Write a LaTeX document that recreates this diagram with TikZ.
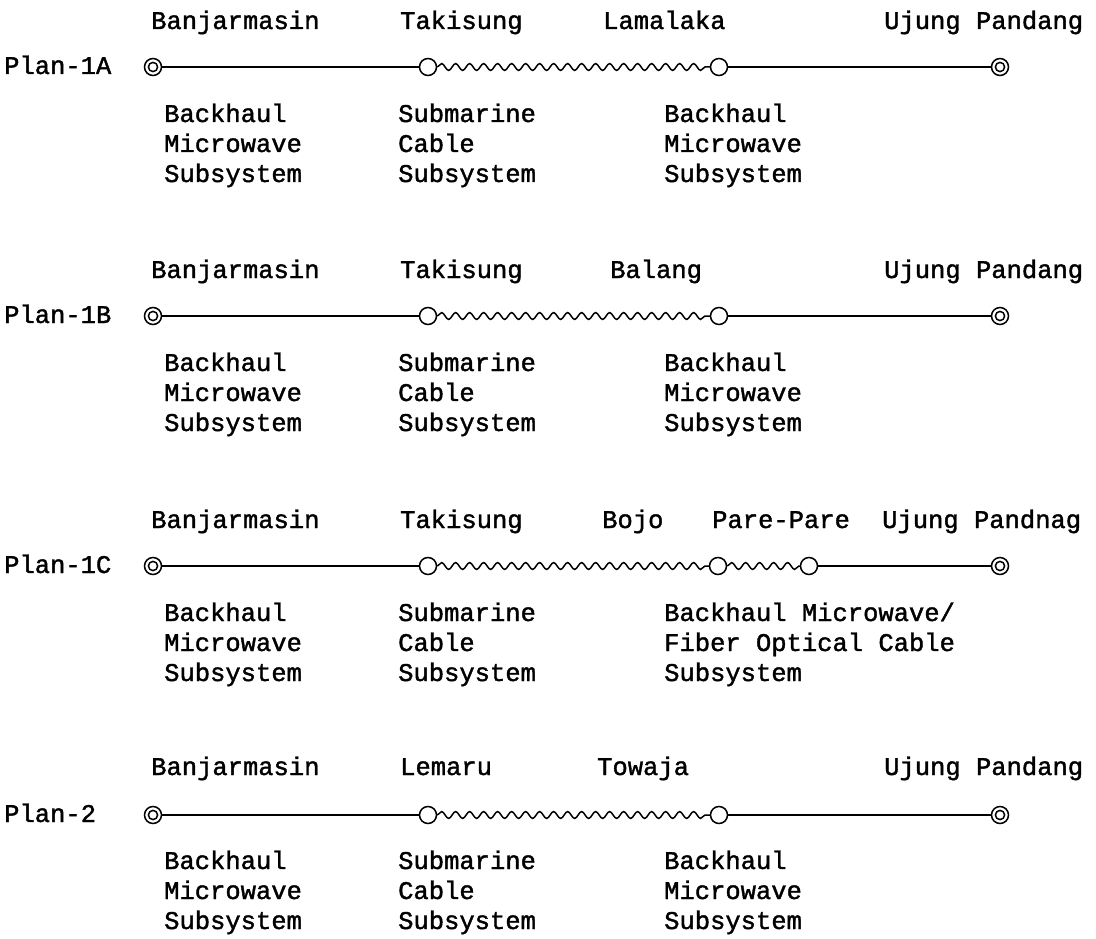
\documentclass[tikz,border=0pt]{standalone}
\usepackage{fontspec}
\setmonofont{Liberation Mono}[FakeBold=1.5]
\usetikzlibrary{decorations.pathmorphing}
\tikzset{
  x=1pt, y=-1pt,
  txt/.style={font=\ttfamily\fontsize{25.5}{30}\selectfont, inner sep=0pt, anchor=base west},
  desc/.style={font=\ttfamily\fontsize{25.5}{30}\selectfont, inner sep=0pt, anchor=base west, align=left},
  sta/.style={circle, draw, line width=1.5pt, minimum size=17pt, inner sep=0pt, fill=white},
  dbl/.style={circle, draw, line width=1.5pt, minimum size=17pt, inner sep=0pt, fill=white,
     path picture={\draw[line width=1.5pt] (path picture bounding box.center) circle (4.6pt);}},
  lnk/.style={line width=1.5pt},
  wav/.style={line width=1.5pt, decorate, decoration={snake, segment length=14pt, amplitude=3.4pt}}
}
\begin{document}
\begin{tikzpicture}
\useasboundingbox (0,0) rectangle (1096,939);
% ---------- Plan-1A ----------
\def\y{67}
\node[txt] (p1) at (4,\y+7) {Plan-1A};
\node[txt] (n1a) at (151,\y-38) {Banjarmasin};
\node[txt] (n1b) at (400,\y-38) {Takisung};
\node[txt] (n1c) at (603,\y-38) {Lamalaka};
\node[txt] (n1d) at (884,\y-38) {Ujung Pandang};
\node[dbl] (s1) at (153,\y) {};
\node[sta] (t1) at (428,\y) {};
\node[sta] (l1) at (719,\y) {};
\node[dbl] (e1) at (1000,\y) {};
\draw[lnk] (s1) -- (t1);
\draw[wav] (t1) -- (l1);
\draw[lnk] (l1) -- (e1);
\node[desc] (d1a) at (164,\y+115) {Backhaul\\Microwave\\Subsystem};
\node[desc] (d1b) at (398,\y+115) {Submarine\\Cable\\Subsystem};
\node[desc] (d1c) at (664,\y+115) {Backhaul\\Microwave\\Subsystem};
% ---------- Plan-1B ----------
\def\y{316}
\node[txt] (p2) at (4,\y+7) {Plan-1B};
\node[txt] (n2a) at (151,\y-38) {Banjarmasin};
\node[txt] (n2b) at (400,\y-38) {Takisung};
\node[txt] (n2c) at (610,\y-38) {Balang};
\node[txt] (n2d) at (884,\y-38) {Ujung Pandang};
\node[dbl] (s2) at (153,\y) {};
\node[sta] (t2) at (428,\y) {};
\node[sta] (l2) at (719,\y) {};
\node[dbl] (e2) at (1000,\y) {};
\draw[lnk] (s2) -- (t2);
\draw[wav] (t2) -- (l2);
\draw[lnk] (l2) -- (e2);
\node[desc] (d2a) at (164,\y+115) {Backhaul\\Microwave\\Subsystem};
\node[desc] (d2b) at (398,\y+115) {Submarine\\Cable\\Subsystem};
\node[desc] (d2c) at (664,\y+115) {Backhaul\\Microwave\\Subsystem};
% ---------- Plan-1C ----------
\def\y{566}
\node[txt] (p3) at (4,\y+7) {Plan-1C};
\node[txt] (n3a) at (151,\y-38) {Banjarmasin};
\node[txt] (n3b) at (400,\y-38) {Takisung};
\node[txt] (n3c) at (602,\y-38) {Bojo};
\node[txt] (n3e) at (712,\y-38) {Pare-Pare};
\node[txt] (n3d) at (882,\y-38) {Ujung Pandnag};
\node[dbl] (s3) at (153,\y) {};
\node[sta] (t3) at (428,\y) {};
\node[sta] (l3) at (718,\y) {};
\node[sta] (q3) at (809,\y) {};
\node[dbl] (e3) at (1000,\y) {};
\draw[lnk] (s3) -- (t3);
\draw[wav] (t3) -- (l3);
\draw[wav] (l3) -- (q3);
\draw[lnk] (q3) -- (e3);
\node[desc] (d3a) at (164,\y+115) {Backhaul\\Microwave\\Subsystem};
\node[desc] (d3b) at (398,\y+115) {Submarine\\Cable\\Subsystem};
\node[desc] (d3c) at (664,\y+115) {Backhaul Microwave/\\Fiber Optical Cable\\Subsystem};
% ---------- Plan-2 ----------
\def\y{815}
\node[txt] (p4) at (4,\y+7) {Plan-2};
\node[txt] (n4a) at (151,\y-40) {Banjarmasin};
\node[txt] (n4b) at (400,\y-40) {Lemaru};
\node[txt] (n4c) at (597,\y-40) {Towaja};
\node[txt] (n4d) at (884,\y-40) {Ujung Pandang};
\node[dbl] (s4) at (153,\y) {};
\node[sta] (t4) at (428,\y) {};
\node[sta] (l4) at (719,\y) {};
\node[dbl] (e4) at (1000,\y) {};
\draw[lnk] (s4) -- (t4);
\draw[wav] (t4) -- (l4);
\draw[lnk] (l4) -- (e4);
\node[desc] (d4a) at (164,\y+114) {Backhaul\\Microwave\\Subsystem};
\node[desc] (d4b) at (398,\y+114) {Submarine\\Cable\\Subsystem};
\node[desc] (d4c) at (664,\y+114) {Backhaul\\Microwave\\Subsystem};
\end{tikzpicture}
\end{document}
